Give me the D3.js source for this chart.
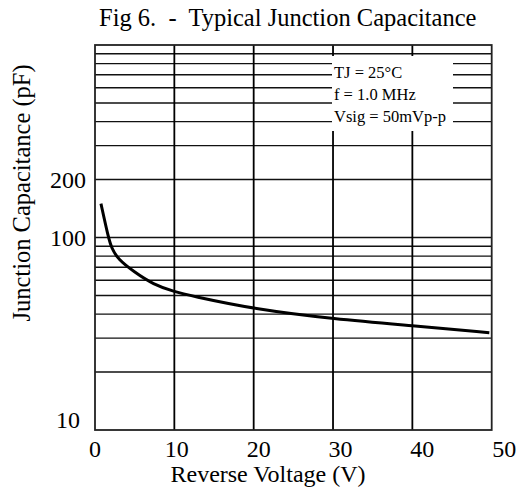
<!DOCTYPE html>
<html>
<head>
<meta charset="utf-8">
<script src="https://cdn.jsdelivr.net/npm/d3@7"></script>
<style>
  body { margin: 0; background: #fff; }
  text { font-family: "Liberation Serif", "Times New Roman", serif; fill: #000; }
</style>
</head>
<body>
<div id="container"></div>
<script>
// curve
const voltage = [0.75, 1.68, 2.1, 2.9, 4.9, 7.35, 10, 12, 20, 30.2, 40, 49.7];
const capacitance = [150, 100, 88, 77, 66.4, 57, 52.3, 49.9, 42.5, 37.7, 34.8, 32];

const xTicks = [0, 10, 20, 30, 40, 50];
const yTickLabels = [10, 100, 200];
const yGrid = [20, 30, 40, 50, 60, 70, 80, 90, 100, 200, 300, 400, 500, 600, 700, 800, 900];
const notes = ["TJ = 25\u00b0C", "f = 1.0 MHz", "Vsig = 50mVp-p"];

const width = 525, height = 488;
const margin = { top: 45, right: 33.3, bottom: 58, left: 95 };

const svg = d3.select("#container")
    .append("svg")
    .attr("width", width)
    .attr("height", height);

const x = d3.scaleLinear()
    .domain([0, 50])
    .range([margin.left, width - margin.right]);

const y = d3.scaleLog()
    .domain([10, 1000])
    .range([height - margin.bottom, margin.top]);

// grid
svg.append("g")
    .selectAll("line")
    .data(yGrid)
    .join("line")
    .attr("x1", x(0)).attr("x2", x(50))
    .attr("y1", d => y(d)).attr("y2", d => y(d))
    .attr("stroke", "#111")
    .attr("stroke-width", 1.4);

svg.append("g")
    .selectAll("line")
    .data(xTicks.slice(1, -1))
    .join("line")
    .attr("x1", d => x(d)).attr("x2", d => x(d))
    .attr("y1", y(1000)).attr("y2", y(10))
    .attr("stroke", "#000")
    .attr("stroke-width", 1.8);

// note box covers the grid
const box = svg.append("g");
box.append("rect")
    .attr("x", 332).attr("y", 56)
    .attr("width", 121).attr("height", 75)
    .attr("fill", "#fff");
box.selectAll("text")
    .data(notes)
    .join("text")
    .attr("x", 334)
    .attr("y", (d, i) => 77.5 + i * 22)
    .attr("font-size", 16.5)
    .text(d => d);

// frame
svg.append("rect")
    .attr("x", x(0)).attr("y", y(1000))
    .attr("width", x(50) - x(0))
    .attr("height", y(10) - y(1000))
    .attr("fill", "none")
    .attr("stroke", "#222")
    .attr("stroke-width", 1.8);

// curve
const line = d3.line()
    .x(d => x(d[0]))
    .y(d => y(d[1]))
    .curve(d3.curveBasis);

svg.append("path")
    .datum(d3.zip(voltage, capacitance))
    .attr("fill", "none")
    .attr("stroke", "#000")
    .attr("stroke-width", 3)
    .attr("d", line);

// tick labels
svg.append("g")
    .selectAll("text")
    .data(xTicks)
    .join("text")
    .attr("x", d => x(d) + d * 0.25)
    .attr("y", 456.5)
    .attr("text-anchor", "middle")
    .attr("font-size", 24)
    .text(d => d);

svg.append("g")
    .selectAll("text")
    .data(yTickLabels)
    .join("text")
    .attr("x", d => d === 10 ? 80 : 86)
    .attr("y", d => y(d))
    .attr("dy", d => d === 10 ? "-0.1em" : "0.35em")
    .attr("text-anchor", "end")
    .attr("font-size", 24)
    .text(d => d);

// titles
svg.append("text")
    .attr("x", 99)
    .attr("y", 26)
    .attr("font-size", 24.5)
    .style("white-space", "pre")
    .text("Fig 6.  -  Typical Junction Capacitance");

svg.append("text")
    .attr("x", 268)
    .attr("y", 482)
    .attr("text-anchor", "middle")
    .attr("font-size", 24)
    .text("Reverse Voltage (V)");

svg.append("text")
    .attr("transform", "translate(30,193) rotate(-90)")
    .attr("text-anchor", "middle")
    .attr("font-size", 24.5)
    .text("Junction Capacitance (pF)");
</script>
</body>
</html>
